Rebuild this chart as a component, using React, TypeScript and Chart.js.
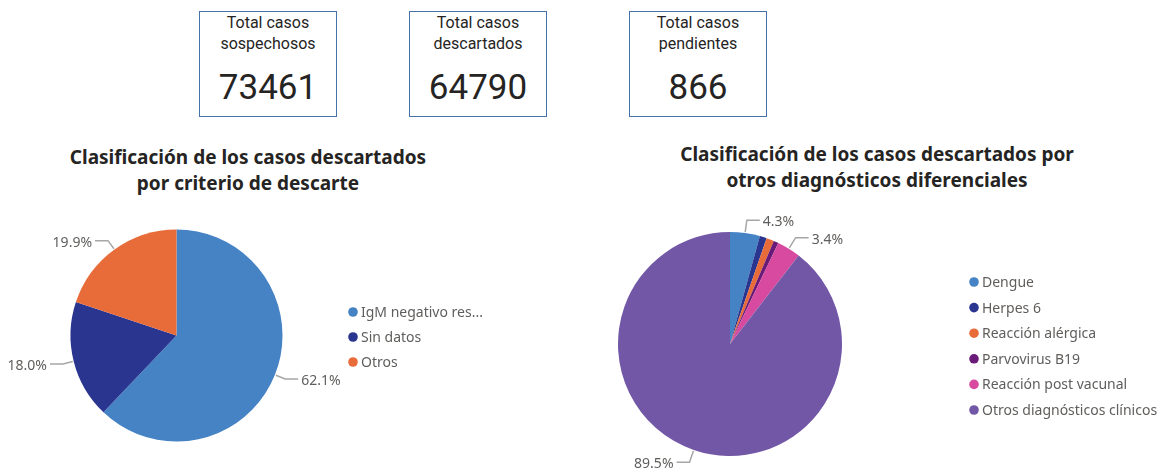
import React, { useEffect, useRef } from "react";
import { Chart, registerables } from "chart.js";

Chart.register(...registerables);

// ---------- DATA ----------
const kpiTitles = ["Total casos\nsospechosos", "Total casos\ndescartados", "Total casos\npendientes"];
const kpiValues = [73461, 64790, 866];

const criterioTitle = "Clasificación de los casos descartados\npor criterio de descarte";
const criterioLabels = ["IgM negativo res...", "Sin datos", "Otros"];
const criterioValues = [62.1, 18.0, 19.9];

const diagTitle = "Clasificación de los casos descartados por\notros diagnósticos diferenciales";
const diagLabels = [
  "Dengue",
  "Herpes 6",
  "Reacción alérgica",
  "Parvovirus B19",
  "Reacción post vacunal",
  "Otros diagnósticos clínicos",
];
const diagValues = [4.3, 1.0, 1.1, 0.7, 3.4, 89.5];

const criterioColors = ["#4583C5", "#29358F", "#E86C3A"];
const diagColors = ["#4583C5", "#29358F", "#E86C3A", "#6A1B78", "#D84A9F", "#7257A6"];

const LABEL_FONT = "14px 'Noto Sans', 'Open Sans', sans-serif";
const LEGEND_FONT = "14px 'Noto Sans', 'Open Sans', sans-serif";
const GRAY_TEXT = "#605E5C";
const LEADER = "#A6A6A6";

// ---------- PLUGINS ----------
const outsideLabels = {
  id: "outsideLabels",
  afterDatasetsDraw(chart: any, _args: any, opts: any) {
    const ctx = chart.ctx;
    const meta = chart.getDatasetMeta(0);
    const data = chart.data.datasets[0].data as number[];
    const total = data.reduce((a, b) => a + b, 0);
    ctx.save();
    meta.data.forEach((arc: any, i: number) => {
      const pct = (data[i] / total) * 100;
      if (pct < (opts.minPct ?? 0)) return;
      const p = arc.getProps(["x", "y", "startAngle", "endAngle", "outerRadius"], true);
      const mid = (p.startAngle + p.endAngle) / 2;
      const c = Math.cos(mid);
      const s = Math.sin(mid);
      const r0 = p.outerRadius + 1;
      const r1 = p.outerRadius + (opts.radial ?? 11);
      const x0 = p.x + c * r0;
      const y0 = p.y + s * r0;
      const x1 = p.x + c * r1;
      const y1 = p.y + s * r1;
      const dir = c >= 0 ? 1 : -1;
      const x2 = x1 + dir * (opts.horiz ?? 13);
      ctx.strokeStyle = LEADER;
      ctx.lineWidth = 1.5;
      ctx.beginPath();
      ctx.moveTo(x0, y0);
      ctx.lineTo(x1, y1);
      ctx.lineTo(x2, y1);
      ctx.stroke();
      ctx.fillStyle = GRAY_TEXT;
      ctx.font = LABEL_FONT;
      ctx.textBaseline = "middle";
      ctx.textAlign = dir > 0 ? "left" : "right";
      ctx.fillText(pct.toFixed(1) + "%", x2 + dir * 3, y1 + 2);
    });
    ctx.restore();
  },
};

const sideLegend = {
  id: "sideLegend",
  afterDraw(chart: any, _args: any, opts: any) {
    const ctx = chart.ctx;
    const labels = chart.data.labels as string[];
    const colors = chart.data.datasets[0].backgroundColor as string[];
    ctx.save();
    ctx.font = LEGEND_FONT;
    ctx.textBaseline = "middle";
    ctx.textAlign = "left";
    labels.forEach((lab, i) => {
      const y = opts.y + i * opts.step;
      ctx.fillStyle = colors[i];
      ctx.beginPath();
      ctx.arc(opts.x, y, 4.8, 0, Math.PI * 2);
      ctx.fill();
      ctx.fillStyle = GRAY_TEXT;
      ctx.fillText(lab, opts.x + 8, y + 1);
    });
    ctx.restore();
  },
};

// ---------- COMPONENTS ----------
type PieProps = {
  left: number;
  top: number;
  width: number;
  height: number;
  padding: { left: number; top: number; right: number; bottom: number };
  labels: string[];
  values: number[];
  colors: string[];
  minPct: number;
  radial: number;
  legend: { x: number; y: number; step: number };
};

function PieChart(props: PieProps) {
  const ref = useRef<HTMLCanvasElement | null>(null);
  useEffect(() => {
    if (!ref.current) return;
    const chart = new Chart(ref.current, {
      type: "pie",
      data: {
        labels: props.labels,
        datasets: [
          {
            data: props.values,
            backgroundColor: props.colors,
            borderWidth: 0,
          },
        ],
      },
      options: {
        responsive: false,
        animation: false,
        rotation: 0,
        layout: { padding: props.padding },
        plugins: {
          legend: { display: false },
          tooltip: { enabled: false },
          title: { display: false },
          outsideLabels: { minPct: props.minPct, radial: props.radial, horiz: 13 },
          sideLegend: props.legend,
        } as any,
      },
      plugins: [outsideLabels, sideLegend],
    });
    return () => chart.destroy();
  }, []);
  return (
    <canvas
      ref={ref}
      width={props.width}
      height={props.height}
      style={{ position: "absolute", left: props.left, top: props.top, width: props.width, height: props.height }}
    />
  );
}

const kpiLefts = [199, 409, 629];

function Kpi({ idx }: { idx: number }) {
  const [l1, l2] = kpiTitles[idx].split("\n");
  return (
    <div
      style={{
        position: "absolute",
        left: kpiLefts[idx],
        top: 11,
        width: 138,
        height: 106,
        border: "1.5px solid #4472A8",
        boxSizing: "border-box",
        fontFamily: "Roboto, 'DejaVu Sans', sans-serif",
        color: "#252423",
        textAlign: "center",
      }}
    >
      <div style={{ position: "absolute", left: 0, right: 0, top: 0, fontSize: 16, lineHeight: "21px" }}>
        {l1}
        <br />
        {l2}
      </div>
      <div style={{ position: "absolute", left: 0, right: 0, top: 56, fontSize: 35, lineHeight: "40px" }}>
        {kpiValues[idx]}
      </div>
    </div>
  );
}

function Title({ text, cx, top }: { text: string; cx: number; top: number }) {
  const [a, b] = text.split("\n");
  return (
    <div
      style={{
        position: "absolute",
        left: cx - 300,
        width: 600,
        top,
        textAlign: "center",
        fontFamily: "'Noto Sans', 'Open Sans', sans-serif",
        fontWeight: 700,
        fontSize: 19,
        lineHeight: "26px",
        color: "#252423",
        whiteSpace: "nowrap",
      }}
    >
      {a}
      <br />
      {b}
    </div>
  );
}

export default function App() {
  return (
    <div style={{ position: "absolute", left: 0, top: 0, width: 1159, height: 472, background: "#fff", overflow: "hidden" }}>
      <Kpi idx={0} />
      <Kpi idx={1} />
      <Kpi idx={2} />
      <Title text={criterioTitle} cx={248} top={144} />
      <Title text={diagTitle} cx={877} top={141} />
      <PieChart
        left={0}
        top={200}
        width={580}
        height={272}
        padding={{ left: 70.5, top: 29.5, right: 297.5, bottom: 30.5 }}
        labels={criterioLabels}
        values={criterioValues}
        colors={criterioColors}
        minPct={0}
        radial={11}
        legend={{ x: 353, y: 112, step: 25 }}
      />
      <PieChart
        left={580}
        top={200}
        width={579}
        height={272}
        padding={{ left: 38, top: 32, right: 317, bottom: 16 }}
        labels={diagLabels}
        values={diagValues}
        colors={diagColors}
        minPct={2}
        radial={13}
        legend={{ x: 394, y: 82, step: 25.6 }}
      />
    </div>
  );
}
